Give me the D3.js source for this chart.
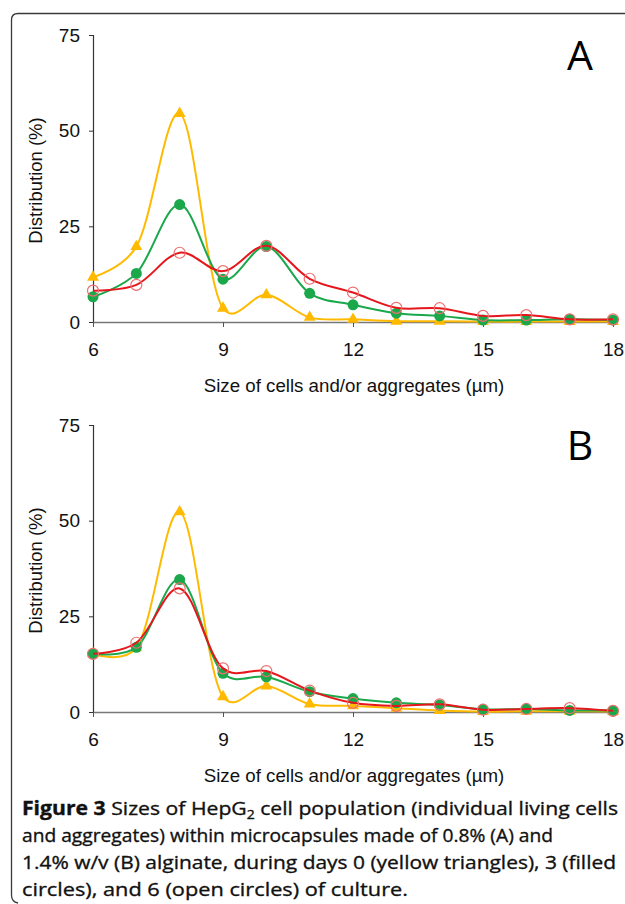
<!DOCTYPE html>
<html>
<head>
<meta charset="utf-8">
<script src="https://cdn.jsdelivr.net/npm/d3@7"></script>
<style>
  html, body { margin: 0; padding: 0; background: #fff; }
  svg { display: block; }
</style>
</head>
<body>
<svg id="chart" width="625" height="904"></svg>
<script>
// ---------- DATA ----------
const sizes = [6, 7, 8, 9, 10, 11, 12, 13, 14, 15, 16, 17, 18];
const xTicks = [6, 9, 12, 15, 18];
const yTicks = [0, 25, 50, 75];

// Panel A: 0.8% alginate
const aDay0 = [11.7, 19.7, 54.5, 3.6, 7.1, 1.2, 0.7, 0.2, 0.2, 0.1, 0.1, 0.1, 0.1];
const aDay3 = [6.6, 12.7, 30.7, 11.2, 19.7, 7.5, 4.5, 2.3, 1.6, 0.5, 0.5, 0.7, 0.5];
const aDay6 = [8.2, 9.7, 18.1, 13.3, 19.9, 11.3, 7.7, 3.7, 3.6, 1.6, 1.8, 0.7, 0.7];

// Panel B: 1.4% alginate
const bDay0 = [15.2, 16.8, 52.3, 4.0, 6.8, 2.1, 1.6, 1.0, 0.4, 0.1, 0.2, 0.2, 0.1];
const bDay3 = [15.2, 16.9, 34.6, 10.1, 9.2, 5.3, 3.5, 2.4, 1.8, 0.7, 0.8, 0.4, 0.4];
const bDay6 = [15.2, 18.1, 32.3, 11.4, 10.7, 5.6, 2.4, 1.6, 2.0, 0.6, 0.8, 1.0, 0.3];

const panelLabels = ["A", "B"];
const xTitle = "Size of cells and/or aggregates (\u00b5m)";
const yTitle = "Distribution (%)";

// ---------- DRAW ----------
const svg = d3.select("#chart");
const tickFont = "'Liberation Sans', Arial, sans-serif";
const capFont = "'Open Sans', 'Noto Sans', sans-serif";

const colYellow = "#FFBA00";
const colGreen = "#1BA84B";
const colRed = "#E5161C";
const colRedMarker = "#EE6F70";

// frame
svg.append("path")
  .attr("d", "M625,13.5 H18 Q11.5,13.5 11.5,20 V895 Q11.5,902 18,903")
  .attr("fill", "none").attr("stroke", "#3a3a3a").attr("stroke-width", 1.3);

const x = d3.scaleLinear().domain([6, 18]).range([93, 613]);

const panels = [
  { top: 35, bottom: 322, label: panelLabels[0], labelY: 70, series: [aDay0, aDay3, aDay6] },
  { top: 425, bottom: 712, label: panelLabels[1], labelY: 460, series: [bDay0, bDay3, bDay6] }
];

panels.forEach(p => {
  const y = d3.scaleLinear().domain([0, 75]).range([p.bottom, p.top]);
  const g = svg.append("g");

  // y axis
  const yAx = g.append("g").attr("transform", `translate(${x(6)},0)`)
    .call(d3.axisLeft(y).tickValues(yTicks).tickSize(4).tickPadding(9));
  yAx.select(".domain").attr("stroke", "#333").attr("stroke-width", 1.2);
  yAx.selectAll(".tick line").attr("stroke", "#333");
  yAx.selectAll("text").attr("font-family", tickFont).attr("font-size", 19).attr("fill", "#111");

  // x axis
  const xAx = g.append("g").attr("transform", `translate(0,${p.bottom})`)
    .call(d3.axisBottom(x).tickValues(xTicks).tickSize(5).tickSizeOuter(0).tickPadding(16));
  xAx.select(".domain").attr("stroke", "#777").attr("stroke-width", 1.6);
  xAx.selectAll(".tick line").attr("stroke", "#555");
  xAx.selectAll("text").attr("font-family", tickFont).attr("font-size", 19).attr("fill", "#111");

  // titles
  g.append("text").attr("x", 354).attr("y", p.bottom + 70)
    .attr("text-anchor", "middle").attr("font-family", tickFont).attr("font-size", 18.7)
    .attr("fill", "#111").text(xTitle);
  g.append("text")
    .attr("transform", `translate(42,${(p.top + p.bottom) / 2 + 2}) rotate(-90)`)
    .attr("text-anchor", "middle").attr("font-family", tickFont).attr("font-size", 18.5)
    .attr("fill", "#111").text(yTitle);

  // panel label
  g.append("text").attr("x", 580).attr("y", p.labelY)
    .attr("text-anchor", "middle").attr("font-family", capFont).attr("font-size", 41)
    .attr("fill", "#000").text(p.label);

  const line = d3.line().x((d, i) => x(sizes[i])).y(d => y(d))
    .curve(d3.curveCatmullRom.alpha(0.2));

  const [s0, s3, s6] = p.series;

  // day 0 - yellow triangles
  g.append("path").attr("d", line(s0)).attr("fill", "none")
    .attr("stroke", colYellow).attr("stroke-width", 2);
  g.selectAll(null).data(s0).join("path")
    .attr("transform", (d, i) => `translate(${x(sizes[i])},${y(d)})`)
    .attr("d", d3.symbol(d3.symbolTriangle, 62)())
    .attr("fill", colYellow);

  // day 3 - green filled circles
  g.append("path").attr("d", line(s3)).attr("fill", "none")
    .attr("stroke", colGreen).attr("stroke-width", 2);
  g.selectAll(null).data(s3).join("circle")
    .attr("cx", (d, i) => x(sizes[i])).attr("cy", d => y(d)).attr("r", 5.5)
    .attr("fill", colGreen);

  // day 6 - red open circles
  g.append("path").attr("d", line(s6)).attr("fill", "none")
    .attr("stroke", colRed).attr("stroke-width", 2);
  g.selectAll(null).data(s6).join("circle")
    .attr("cx", (d, i) => x(sizes[i])).attr("cy", d => y(d)).attr("r", 5.5)
    .attr("fill", "none").attr("stroke", colRedMarker).attr("stroke-width", 1.2);
});

// ---------- CAPTION ----------
const cap = svg.append("g").attr("font-family", capFont).attr("font-size", 19)
  .attr("fill", "#111").attr("stroke", "#111").attr("stroke-width", 0.35);
const capLines = [
  { y: 815, len: 596 },
  { y: 842, len: 531 },
  { y: 869, len: 594 },
  { y: 896, len: 386 }
];
// line 1 with bold and subscript
const t1 = cap.append("text").attr("x", 22).attr("y", capLines[0].y)
  .attr("textLength", capLines[0].len).attr("lengthAdjust", "spacingAndGlyphs");
t1.append("tspan").attr("font-weight", "bold").text("Figure 3");
t1.append("tspan").text(" Sizes of HepG");
t1.append("tspan").attr("font-size", 12.5).attr("dy", 3.5).text("2");
t1.append("tspan").attr("dy", -3.5).text(" cell population (individual living cells");

const capText = [
  "and aggregates) within microcapsules made of 0.8% (A) and",
  "1.4% w/v (B) alginate, during days 0 (yellow triangles), 3 (filled",
  "circles), and 6 (open circles) of culture."
];
capText.forEach((t, i) => {
  cap.append("text").attr("x", 22).attr("y", capLines[i + 1].y)
    .attr("textLength", capLines[i + 1].len).attr("lengthAdjust", "spacingAndGlyphs")
    .text(t);
});
</script>
</body>
</html>
